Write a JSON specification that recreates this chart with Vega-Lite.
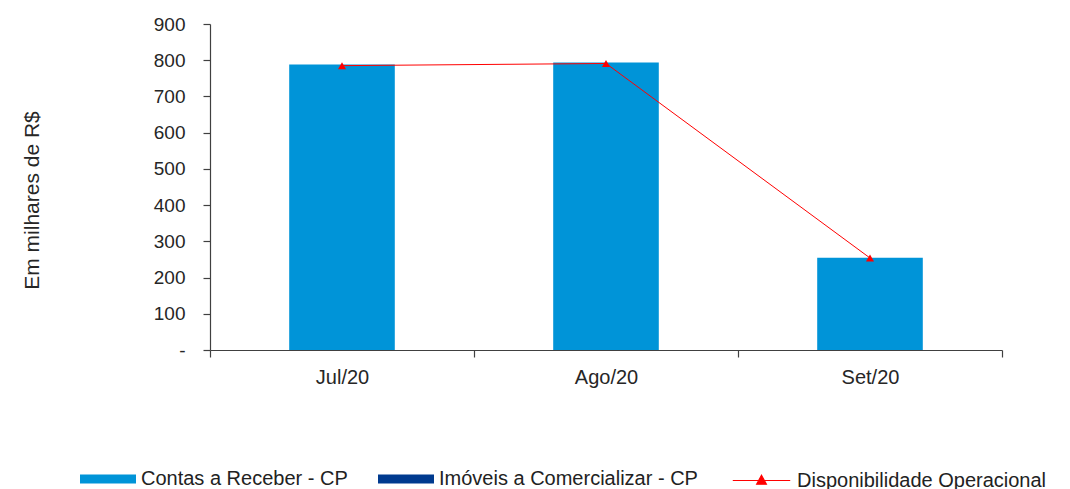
{
  "$schema": "https://vega.github.io/schema/vega-lite/v6.json",
  "width": 792,
  "height": 326,
  "autosize": "none",
  "padding": {"left": 210, "top": 24, "right": 68, "bottom": 139},
  "background": "white",
  "config": {
    "view": {"stroke": null},
    "font": "Liberation Sans",
    "axis": {"labelFont": "Liberation Sans", "labelColor": "#262626", "domainColor": "#404040", "tickColor": "#404040", "grid": false}
  },
  "datasets": {
    "bars": [
      {"mes": "Jul/20", "serie": "Contas a Receber  - CP", "valor": 788},
      {"mes": "Ago/20", "serie": "Contas a Receber  - CP", "valor": 794},
      {"mes": "Set/20", "serie": "Contas a Receber  - CP", "valor": 255},
      {"mes": "Jul/20", "serie": "Imóveis a Comercializar - CP", "valor": 0},
      {"mes": "Ago/20", "serie": "Imóveis a Comercializar - CP", "valor": 0},
      {"mes": "Set/20", "serie": "Imóveis a Comercializar - CP", "valor": 0}
    ],
    "linha": [
      {"mes": "Jul/20", "serie": "Disponibilidade Operacional", "valor": 785},
      {"mes": "Ago/20", "serie": "Disponibilidade Operacional", "valor": 791},
      {"mes": "Set/20", "serie": "Disponibilidade Operacional", "valor": 254}
    ]
  },
  "encoding": {
    "x": {
      "field": "mes", "type": "nominal", "sort": ["Jul/20", "Ago/20", "Set/20"],
      "scale": {"paddingInner": 0, "paddingOuter": 0},
      "axis": {"title": null, "labelAngle": 0, "tickBand": "extent", "tickSize": 7, "labelPadding": 10, "labelFontSize": 20, "domainWidth": 1.2, "tickWidth": 1.2}
    },
    "y": {
      "field": "valor", "type": "quantitative",
      "scale": {"domain": [0, 900], "nice": false},
      "axis": {
        "title": "Em milhares de R$", "titleFont": "Liberation Sans", "titleFontSize": 21, "titleFontWeight": "normal", "titleColor": "#262626",
        "titleX": -178, "titleY": 176, "titleAngle": -90, "titleAlign": "center", "titleBaseline": "middle",
        "values": [0, 100, 200, 300, 400, 500, 600, 700, 800, 900],
        "labelExpr": "datum.value == 0 ? '-' : datum.label",
        "labelFontSize": 19,
        "tickSize": 7, "labelPadding": 18, "domainWidth": 1.2, "tickWidth": 1.2
      }
    }
  },
  "layer": [
    {
      "data": {"name": "bars"},
      "mark": {"type": "bar", "width": {"band": 0.4}},
      "encoding": {
        "color": {
          "field": "serie", "type": "nominal",
          "scale": {"domain": ["Contas a Receber  - CP", "Imóveis a Comercializar - CP"], "range": ["#0094D8", "#003A8F"]},
          "legend": {
            "title": null, "orient": "none", "direction": "horizontal", "legendX": -130, "legendY": 427,
            "symbolType": "M-1,-0.16H1V0.16H-1Z", "symbolSize": 3136, "symbolStrokeWidth": 0,
            "labelFont": "Liberation Sans", "labelFontSize": 20, "labelColor": "#222222", "labelOffset": 5,
            "columnPadding": 24, "labelLimit": 400
          }
        },
        "order": {"field": "serie", "sort": "ascending"}
      }
    },
    {
      "data": {"name": "linha"},
      "mark": {"type": "line", "color": "#FF0000", "strokeWidth": 1},
      "encoding": {
        "stroke": {
          "field": "serie", "type": "nominal",
          "scale": {"range": ["#FF0000"]},
          "legend": {
            "title": null, "orient": "none", "legendX": 522, "legendY": 427,
            "symbolType": "M-1,0H1M-0.17,0.13L0,-0.18L0.17,0.13Z", "symbolSize": 3300, "symbolStrokeWidth": 1.2, "symbolFillColor": "#FF0000",
            "labelFont": "Liberation Sans", "labelFontSize": 20, "labelColor": "#222222", "labelOffset": 6, "labelLimit": 400
          }
        }
      }
    },
    {
      "data": {"name": "linha"},
      "mark": {"type": "point", "shape": "triangle-up", "filled": true, "color": "#FF0000", "size": 65, "opacity": 1},
      "encoding": {}
    }
  ]
}
